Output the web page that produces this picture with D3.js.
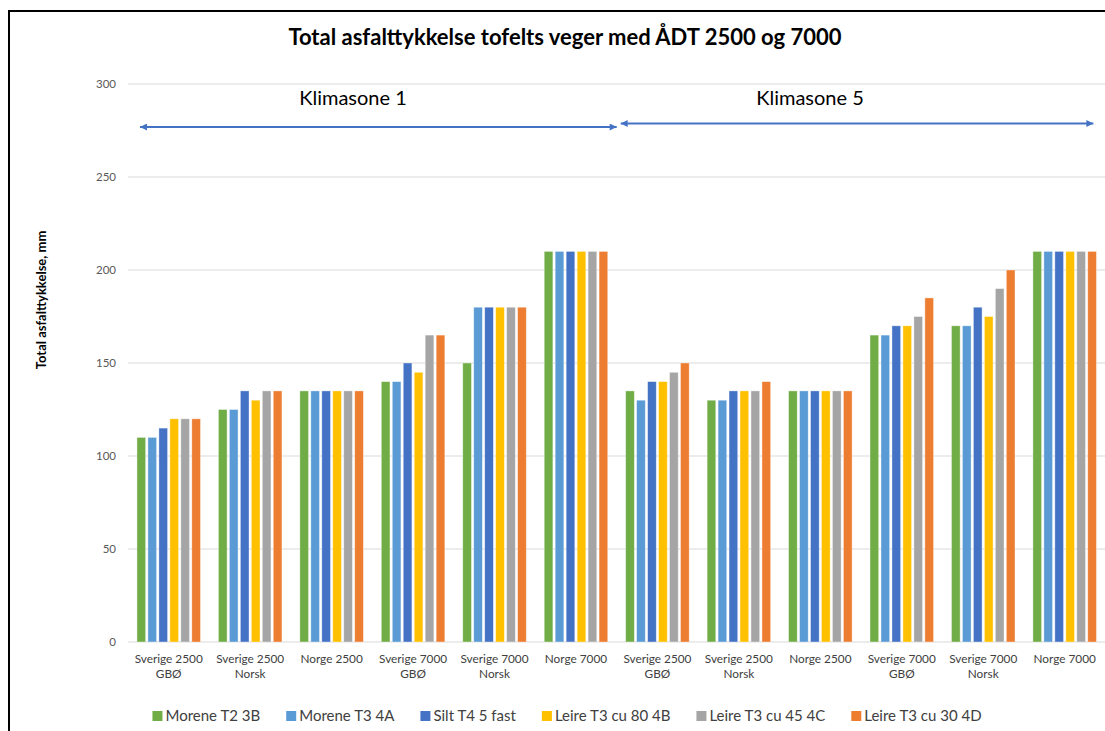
<!DOCTYPE html>
<html>
<head>
<meta charset="utf-8">
<script src="https://cdn.jsdelivr.net/npm/d3@7"></script>
<style>
body { margin: 0; background: #fff; }
svg { font-family: Lato, "Open Sans", sans-serif; }
</style>
</head>
<body>
<svg id="chart" width="1105" height="731"></svg>
<script>
// categories (two lines each)
var categories = [
	["Sverige 2500", "GBØ"], ["Sverige 2500", "Norsk"], ["Norge 2500"],
	["Sverige 7000", "GBØ"], ["Sverige 7000", "Norsk"], ["Norge 7000"],
	["Sverige 2500", "GBØ"], ["Sverige 2500", "Norsk"], ["Norge 2500"],
	["Sverige 7000", "GBØ"], ["Sverige 7000", "Norsk"], ["Norge 7000"]
];
var zones = ["Klimasone 1", "Klimasone 5"];
var seriesNames = ["Morene T2 3B", "Morene T3 4A", "Silt T4 5 fast", "Leire T3 cu 80 4B", "Leire T3 cu 45 4C", "Leire T3 cu 30 4D"];
var seriesColors = ["#70AD47", "#5B9BD5", "#4472C4", "#FFC000", "#A5A5A5", "#ED7D31"];

var morene3B = [110, 125, 135, 140, 150, 210, 135, 130, 135, 165, 170, 210];
var morene4A = [110, 125, 135, 140, 180, 210, 130, 130, 135, 165, 170, 210];
var silt5    = [115, 135, 135, 150, 180, 210, 140, 135, 135, 170, 180, 210];
var leire4B  = [120, 130, 135, 145, 180, 210, 140, 135, 135, 170, 175, 210];
var leire4C  = [120, 135, 135, 165, 180, 210, 145, 135, 135, 175, 190, 210];
var leire4D  = [120, 135, 135, 165, 180, 210, 150, 140, 135, 185, 200, 210];
var seriesValues = [morene3B, morene4A, silt5, leire4B, leire4C, leire4D];

var yTicks = [0, 50, 100, 150, 200, 250, 300];

var svg = d3.select("#chart");

// outer frame
svg.append("rect")
	.attr("x", 9).attr("y", 11)
	.attr("width", 1200).attr("height", 800)
	.attr("fill", "none")
	.attr("stroke", "#000")
	.attr("stroke-width", 2);

var plotL = 128, plotR = 1105.4, plotT = 84, plotB = 642;

var x0 = d3.scaleBand()
	.domain(d3.range(categories.length))
	.range([plotL, plotR])
	.paddingInner(0.22)
	.paddingOuter(0.11);

var x1 = d3.scaleBand()
	.domain(d3.range(seriesNames.length))
	.range([0, x0.bandwidth()])
	.paddingInner(0.21);

var y = d3.scaleLinear().domain([0, 300]).range([plotB, plotT]);

// gridlines
svg.append("g").selectAll("line")
	.data(yTicks)
	.enter().append("line")
	.attr("x1", plotL).attr("x2", plotR)
	.attr("y1", function(d) { return y(d); })
	.attr("y2", function(d) { return y(d); })
	.attr("stroke", "#D9D9D9")
	.attr("stroke-width", 1);

// y tick labels
svg.append("g").selectAll("text")
	.data(yTicks)
	.enter().append("text")
	.attr("x", 116)
	.attr("y", function(d) { return y(d); })
	.attr("dy", "0.35em")
	.attr("text-anchor", "end")
	.attr("font-size", "11.5px")
	.attr("fill", "#595959")
	.text(function(d) { return d; });

// bars
var groups = svg.append("g").selectAll("g")
	.data(categories)
	.enter().append("g")
	.attr("transform", function(d, i) { return "translate(" + x0(i) + ",0)"; });

groups.selectAll("rect")
	.data(function(d, i) { return seriesValues.map(function(s, k) { return {k: k, v: s[i]}; }); })
	.enter().append("rect")
	.attr("x", function(d) { return x1(d.k); })
	.attr("width", x1.bandwidth())
	.attr("y", function(d) { return y(d.v); })
	.attr("height", function(d) { return y(0) - y(d.v); })
	.attr("fill", function(d) { return seriesColors[d.k]; })
	.attr("stroke", "#fff")
	.attr("stroke-opacity", 0.5)
	.attr("stroke-width", 0.75);

// category labels
var catText = svg.append("g").selectAll("text")
	.data(categories)
	.enter().append("text")
	.attr("x", function(d, i) { return x0(i) + x0.bandwidth() / 2; })
	.attr("y", 663)
	.attr("text-anchor", "middle")
	.attr("font-size", "11.8px")
	.attr("fill", "#404040");

catText.selectAll("tspan")
	.data(function(d) { return d; })
	.enter().append("tspan")
	.attr("x", function() { return d3.select(this.parentNode).attr("x"); })
	.attr("dy", function(d, i) { return i === 0 ? 0 : 15; })
	.text(function(d) { return d; });

// title
svg.append("text")
	.attr("x", 565)
	.attr("y", 45)
	.attr("text-anchor", "middle")
	.attr("font-size", "22px")
	.attr("font-weight", "bold")
	.attr("fill", "#000")
	.text("Total asfalttykkelse tofelts veger med ÅDT 2500 og 7000");

// y axis title
svg.append("text")
	.attr("transform", "translate(46,300) rotate(-90)")
	.attr("text-anchor", "middle")
	.attr("font-size", "13px")
	.attr("font-weight", "bold")
	.attr("fill", "#000")
	.text("Total asfalttykkelse, mm");

// climate zone arrows
var defs = svg.append("defs");
defs.append("marker")
	.attr("id", "arr")
	.attr("viewBox", "0 0 10 10")
	.attr("refX", 10).attr("refY", 5)
	.attr("markerWidth", 4).attr("markerHeight", 3.5)
	.attr("orient", "auto-start-reverse")
	.append("path")
	.attr("d", "M0,0L10,5L0,10z")
	.attr("fill", "#4472C4");

var st = x0.step();
var zoneArrows = [
	{a: plotL + 12, b: plotL + 6 * st, ay: 127, tx: 353},
	{a: plotL + 6 * st + 4, b: plotL + 12 * st - 12, ay: 123.5, tx: 810}
];
zoneArrows.forEach(function(z, i) {
	svg.append("line")
		.attr("x1", z.a).attr("x2", z.b)
		.attr("y1", z.ay).attr("y2", z.ay)
		.attr("stroke", "#4472C4")
		.attr("stroke-width", 2)
		.attr("marker-start", "url(#arr)")
		.attr("marker-end", "url(#arr)");
	svg.append("text")
		.attr("x", z.tx)
		.attr("y", 105)
		.attr("text-anchor", "middle")
		.attr("font-size", "20px")
		.attr("fill", "#000")
		.text(zones[i]);
});

// legend
var legend = svg.append("g");
var lx = 0;
seriesNames.forEach(function(name, i) {
	var g = legend.append("g").attr("transform", "translate(" + lx + ",0)");
	g.append("rect")
		.attr("x", 0).attr("y", -10)
		.attr("width", 10).attr("height", 10)
		.attr("fill", seriesColors[i]);
	var t = g.append("text")
		.attr("x", 13).attr("y", 0)
		.attr("font-size", "15px")
		.attr("fill", "#404040")
		.text(name);
	lx += 13 + t.node().getComputedTextLength() + 26;
});
lx -= 26;
legend.attr("transform", "translate(" + (567 - lx / 2) + ",721)");
</script>
</body>
</html>
